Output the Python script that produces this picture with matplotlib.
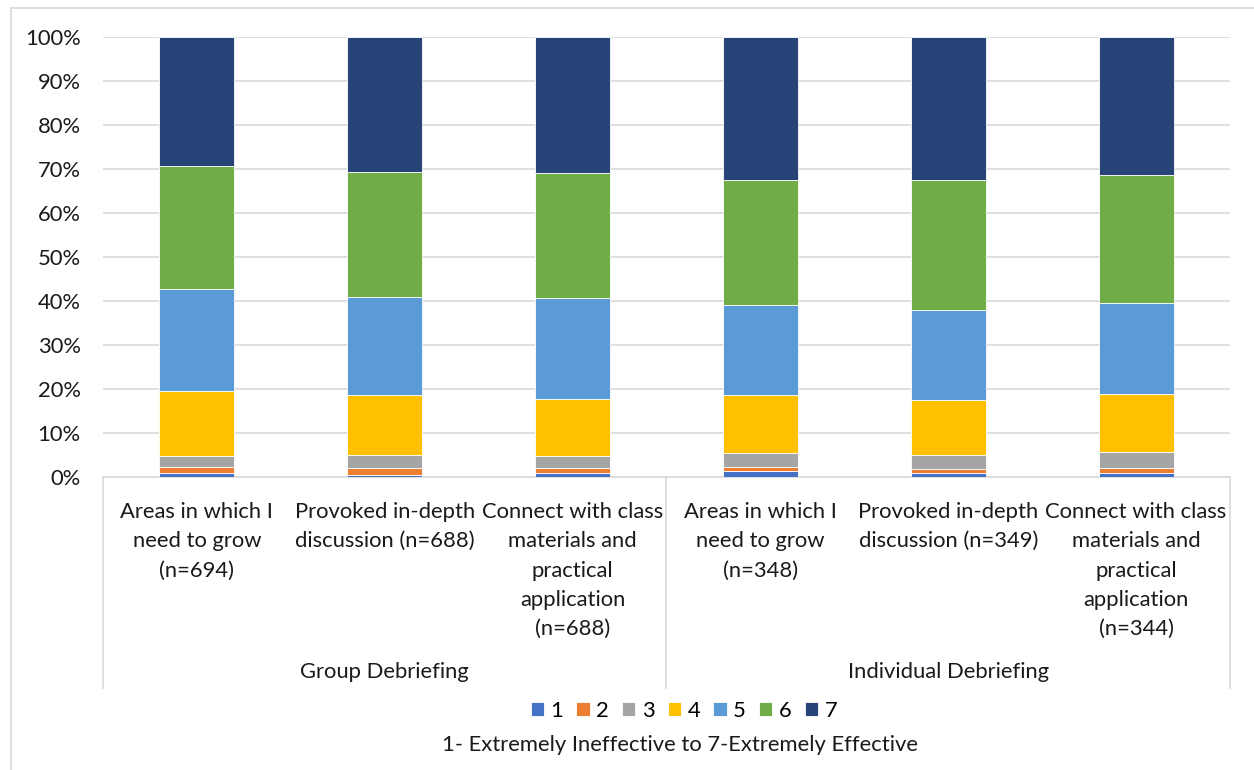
import matplotlib.pyplot as plt
from matplotlib.patches import Rectangle
from matplotlib.lines import Line2D
import numpy as np

plt.rcParams['font.family'] = ['Lato', 'DejaVu Sans']

labels = [
    'Areas in which I\nneed to grow\n(n=694)',
    'Provoked in-depth\ndiscussion (n=688)',
    'Connect with class\nmaterials and\npractical\napplication\n(n=688)',
    'Areas in which I\nneed to grow\n(n=348)',
    'Provoked in-depth\ndiscussion (n=349)',
    'Connect with class\nmaterials and\npractical\napplication\n(n=344)',
]
groups = ['Group Debriefing', 'Individual Debriefing']
ratings = ['1', '2', '3', '4', '5', '6', '7']

# share of responses (%) for each rating, one list per rating
r1 = [0.9, 0.5, 0.8, 1.4, 0.8, 1.0]
r2 = [1.4, 1.6, 1.2, 0.8, 1.1, 1.1]
r3 = [2.4, 2.9, 2.8, 3.3, 3.2, 3.5]
r4 = [14.9, 13.6, 13.0, 13.1, 12.4, 13.3]
r5 = [23.2, 22.2, 22.8, 20.5, 20.5, 20.6]
r6 = [27.9, 28.5, 28.6, 28.4, 29.6, 29.1]
r7 = [29.3, 30.7, 30.8, 32.5, 32.4, 31.4]
series = [r1, r2, r3, r4, r5, r6, r7]

colors = ['#4472C4', '#ED7D31', '#A5A5A5', '#FFC000', '#5B9BD5', '#70AD47', '#264478']

W, H = 1254, 770
FS = 15.8
fig = plt.figure(figsize=(W / 100, H / 100), dpi=100)

# outer chart border
fig.patches.append(Rectangle((11 / W, -0.1), 1.2, 1 - 8 / H + 0.1, transform=fig.transFigure,
                             fill=False, edgecolor='#D9D9D9', linewidth=1.2))

ax = fig.add_axes([103 / W, 1 - 477 / H, 1127 / W, 440 / H])
x = np.arange(len(labels))
bottom = np.zeros(len(labels))
handles = []
for vals, c, name in zip(series, colors, ratings):
    b = ax.bar(x, vals, 0.4, bottom=bottom, color=c, edgecolor='white', linewidth=0.6,
               label=name, zorder=3)
    handles.append(b)
    bottom += np.array(vals)

ax.set_xlim(-0.5, 5.5)
ax.set_ylim(0, 100)
ax.set_yticks(np.arange(0, 101, 10))
ax.set_yticklabels([f'{v}%' for v in range(0, 101, 10)])
ax.tick_params(axis='y', length=0, pad=16, labelsize=FS, labelcolor='#1a1a1a')
ax.set_xticks([])
ax.grid(axis='y', color='#D9D9D9', linewidth=1.2, zorder=0)
for s in ['top', 'right', 'left']:
    ax.spines[s].set_visible(False)
ax.spines['bottom'].set_color('#D9D9D9')
ax.spines['bottom'].set_linewidth(1.2)

# two-level category axis
tr = ax.get_xaxis_transform()
for xi, lab in zip(x, labels):
    ax.text(xi, -25 / 440, lab, transform=tr, ha='center', va='top', fontsize=FS,
            color='#1a1a1a', linespacing=1.58)
for gx, g in zip([1, 4], groups):
    ax.text(gx, -(672 - 477) / 440, g, transform=tr, ha='center', va='center',
            fontsize=FS, color='#1a1a1a')
for dx in [-0.5, 2.5, 5.5]:
    ax.add_line(Line2D([dx, dx], [0, -(688 - 477) / 440], transform=tr, color='#D9D9D9',
                       linewidth=1.2, clip_on=False))

fig.legend(handles=handles, labels=ratings, loc='center', ncol=7,
           bbox_to_anchor=(684 / W, 1 - 711 / H), frameon=False, fontsize=FS,
           handlelength=0.6, handleheight=0.6, handletextpad=0.3, columnspacing=0.6)
fig.text(680 / W, 1 - 745 / H, '1- Extremely Ineffective to 7-Extremely Effective',
         ha='center', va='center', fontsize=FS, color='#1a1a1a')

fig.savefig('out.png', dpi=100)
